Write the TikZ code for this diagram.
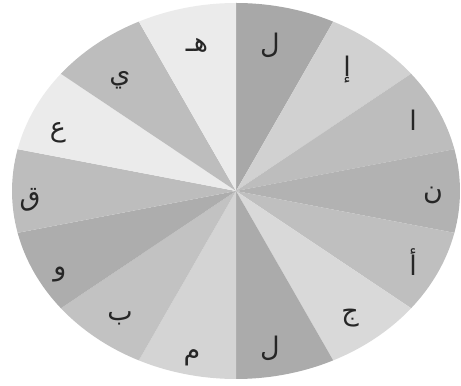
\documentclass[tikz,border=0pt]{standalone}
\usepackage{fontspec}
\newfontfamily\arabicfont[Script=Arabic]{DejaVu Sans}
\TeXXeTstate=1
\begin{document}
\begin{tikzpicture}[
    sector/.style={draw=none},
    letter/.style={font=\arabicfont\fontsize{23}{26}\selectfont, text=black!85, inner sep=0pt}
]
\useasboundingbox (-7.08,-5.85) rectangle (6.75,5.73);

% 14 sectors of the ellipse, clockwise from the top
\foreach \k/\shade in {0/34,1/18,2/26,3/30,4/25,5/15,6/33,7/17,8/24,9/32,10/26,11/8,12/26,13/8} {
  \pgfmathsetmacro{\angb}{90-25.7143*\k}
  \pgfmathsetmacro{\anga}{\angb-25.7143}
  \fill[sector, black!\shade] (0,0) -- ({6.72*cos(\anga)},{5.64*sin(\anga)})
    arc[start angle=\anga, end angle=\angb, x radius=6.72, y radius=5.64] -- cycle;
}

% letters
\node[letter] (lamtop)  at ( 1.02, 4.38) {\beginR ل\endR};
\node[letter] (alifhb)  at ( 3.33, 3.63) {\beginR إ\endR};
\node[letter] (alif)    at ( 5.31, 2.13) {\beginR ا\endR};
\node[letter] (nun)     at ( 5.91,-0.12) {\beginR ن\endR};
\node[letter] (alifha)  at ( 5.31,-2.13) {\beginR أ\endR};
\node[letter] (jim)     at ( 3.42,-3.81) {\beginR ج\endR};
\node[letter] (lambot)  at ( 1.02,-4.71) {\beginR ل\endR};
\node[letter] (mim)     at (-1.32,-5.01) {\beginR م\endR};
\node[letter] (ba)      at (-3.48,-3.81) {\beginR ب\endR};
\node[letter] (waw)     at (-5.28,-2.52) {\beginR و\endR};
\node[letter] (qaf)     at (-6.18,-0.27) {\beginR ق\endR};
\node[letter] (ain)     at (-5.34, 1.74) {\beginR ع\endR};
\node[letter] (ya)      at (-3.48, 3.33) {\beginR ي\endR};
\node[letter] (ha)      at (-1.17, 4.38) {\beginR هـ\endR};

\end{tikzpicture}
\end{document}
